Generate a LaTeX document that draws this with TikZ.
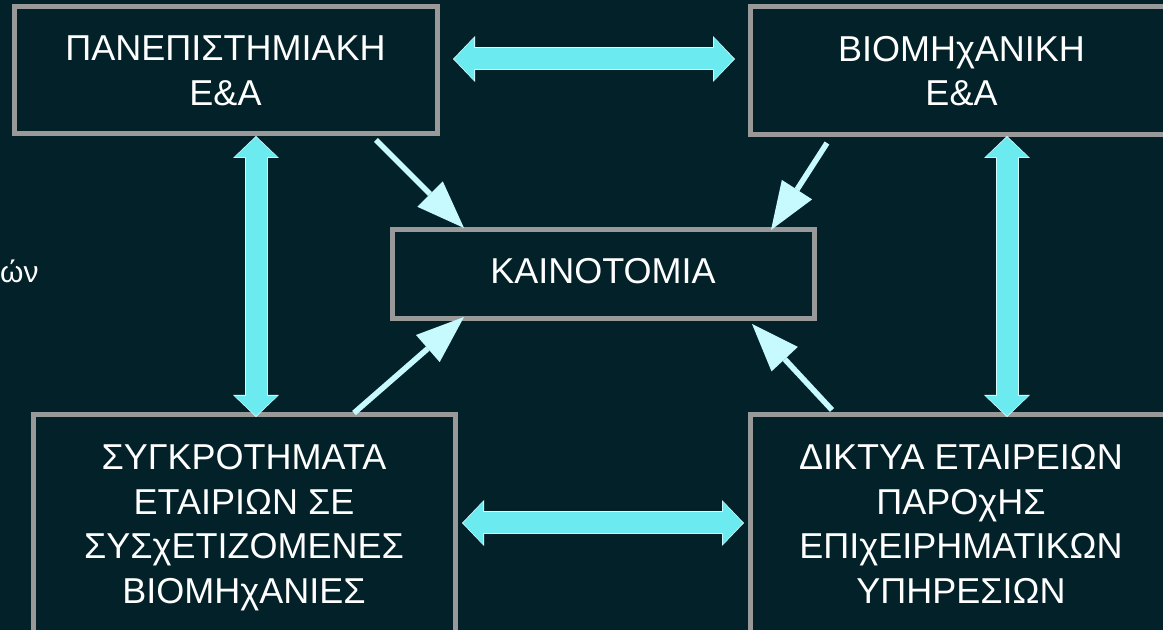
\documentclass[tikz,border=0pt]{standalone}
\usepackage{fontspec}
\setmainfont{Liberation Sans}
\usepackage{xcolor}
\usepackage{tikz}
\usetikzlibrary{arrows.meta, positioning}

\definecolor{bgdark}{RGB}{2,33,40}
\definecolor{boxgray}{RGB}{153,153,153}
\definecolor{flowcyan}{RGB}{107,235,240}
\definecolor{flowedge}{RGB}{214,252,255}
\definecolor{pointer}{RGB}{198,250,255}

\tikzset{
  box/.style={draw=boxgray, line width=2.5pt, fill=bgdark, text=white, align=center,
    outer sep=0pt, inner sep=0pt, font=\fontsize{18}{22.3}\selectfont},
  flowout/.style={draw=flowedge, line width=11.5pt,
    {Triangle[width=23pt,length=11pt,line width=0pt]}-{Triangle[width=23pt,length=11pt,line width=0pt]}},
  flowin/.style={draw=flowcyan, line width=10.5pt, shorten <=0.6pt, shorten >=0.6pt,
    {Triangle[width=21.5pt,length=10pt,line width=0pt]}-{Triangle[width=21.5pt,length=10pt,line width=0pt]}},
  feed/.style={draw=pointer, line width=2.8pt, -{Triangle[width=18pt,length=24pt,line width=0pt]}}
}

\begin{document}
\begin{tikzpicture}[x=0.5pt, y=-0.5pt]

  \fill[bgdark] (0,0) rectangle (1163,630);
  \useasboundingbox (0,0) rectangle (1163,630);
  \clip (0,0) rectangle (1163,630);

  \node[text=white, anchor=base east, inner sep=0pt, font=\fontsize{15}{19}\selectfont] (side) at (39,283) {ών};

  \node[box, minimum width=211.5pt, minimum height=63.5pt] (uni) at (225.5,70.5)
  {ΠΑΝΕΠΙΣΤΗΜΙΑΚΗ\\E\&A};

  \node[box, minimum width=211.5pt, minimum height=64pt] (ind) at (961.5,71)
  {ΒΙΟΜΗχΑΝΙΚΗ\\E\&A};

  \node[box, minimum width=211pt, minimum height=44.5pt, text depth=4pt] (inno) at (603,274.5)
  {ΚΑΙΝΟΤΟΜΙΑ};

  \node[box, minimum width=211pt, minimum height=112.5pt, text depth=3.5pt] (clus) at (244,527.5)
  {ΣΥΓΚΡΟΤΗΜΑΤΑ\\ΕΤΑΙΡΙΩΝ ΣΕ\\ΣΥΣχΕΤΙΖΟΜΕΝΕΣ\\ΒΙΟΜΗχΑΝΙΕΣ};

  \node[box, minimum width=211pt, minimum height=112.5pt, text depth=3.5pt] (net) at (961,527.5)
  {ΔΙΚΤΥΑ ΕΤΑΙΡΕΙΩΝ\\ΠΑΡΟχΗΣ\\ΕΠΙχΕΙΡΗΜΑΤΙΚΩΝ\\ΥΠΗΡΕΣΙΩΝ};

  \draw[flowout] ([shift={(16,-11.5)}]uni.east) -- ([shift={(-15,-12)}]ind.west);
  \draw[flowin] ([shift={(16,-11.5)}]uni.east) -- ([shift={(-15,-12)}]ind.west);
  \draw[flowout] ([shift={(7,-4.5)}]clus.east) -- ([shift={(-6,-4.5)}]net.west);
  \draw[flowin] ([shift={(7,-4.5)}]clus.east) -- ([shift={(-6,-4.5)}]net.west);
  \draw[flowout] ([shift={(30.5,2)}]uni.south) -- ([shift={(12,2)}]clus.north);
  \draw[flowin] ([shift={(30.5,2)}]uni.south) -- ([shift={(12,2)}]clus.north);
  \draw[flowout] ([shift={(45.5,1)}]ind.south) -- ([shift={(46,2)}]net.north);
  \draw[flowin] ([shift={(45.5,1)}]ind.south) -- ([shift={(46,2)}]net.north);

  \draw[feed] ([shift={(-61,6)}]uni.south east) -- ([shift={(72,-2)}]inno.north west);
  \draw[feed] ([shift={(77,8)}]ind.south west) -- ([shift={(-43,0)}]inno.north east);
  \draw[feed] ([shift={(-101,-2)}]clus.north east) -- ([shift={(72,-2)}]inno.south west);
  \draw[feed] ([shift={(82,-5)}]net.north west) -- ([shift={(-62,5)}]inno.south east);

\end{tikzpicture}
\end{document}
